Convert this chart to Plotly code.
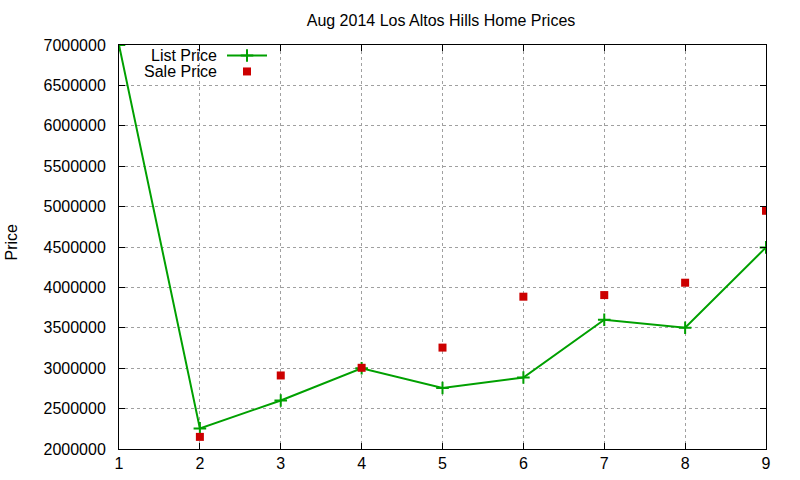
import plotly.graph_objects as go

x_list = [1, 2, 3, 4, 5, 6, 7, 8, 9]
list_price = [7000000, 2255000, 2600000, 3000000, 2755000, 2885000, 3600000, 3500000, 4495000]
x_sale = [2, 3, 4, 5, 6, 7, 8, 9]
sale_price = [2150000, 2910000, 3005000, 3255000, 3885000, 3905000, 4058000, 4948000]
series_names = ["List Price", "Sale Price"]

title_text = "Aug 2014 Los Altos Hills Home Prices"
y_title = "Price"
font_family = "Liberation Sans, Arial, sans-serif"

W, H = 800, 480
ML, MR, MT, MB = 119, 34, 45, 31

fig = go.Figure()
fig.add_trace(go.Scatter(
    x=x_list, y=list_price, mode="lines+markers", name=" ", legend="legend",
    line=dict(color="#00a000", width=2),
    marker=dict(symbol="cross-thin", size=9, line=dict(color="#00a000", width=2)),
))
fig.add_trace(go.Scatter(
    x=x_sale, y=sale_price, mode="markers", name=" ", legend="legend2",
    marker=dict(symbol="square", size=8, color="#cc0000"),
))

# legend labels, right-aligned to the left of the legend symbols (gnuplot style)
for name, yy in zip(series_names, [0.975, 0.9356]):
    fig.add_annotation(text=name, xref="paper", yref="paper", x=0.1546, y=yy,
                       xanchor="right", yanchor="middle", showarrow=False,
                       font=dict(size=16, color="black", family=font_family))

fig.add_annotation(text=y_title, xref="paper", yref="paper", x=0, y=0.5124,
                   xshift=-107.5, xanchor="center", yanchor="middle", textangle=-90,
                   showarrow=False, font=dict(size=16, color="black", family=font_family))

axis_common = dict(
    showline=True, linecolor="black", linewidth=1, mirror="allticks",
    ticks="inside", ticklen=6, tickcolor="black",
    showgrid=True, gridcolor="#a0a0a0", griddash="dot", gridwidth=1,
    zeroline=False, tickfont=dict(size=16, color="black", family=font_family),
)

leg_common = dict(xanchor="left", yanchor="top", bgcolor="rgba(0,0,0,0)",
                  font=dict(size=12), itemwidth=40)

fig.update_layout(
    width=W, height=H,
    margin=dict(l=ML, r=MR, t=MT, b=MB, autoexpand=False),
    paper_bgcolor="white", plot_bgcolor="white",
    font=dict(family=font_family, size=16, color="black"),
    title=dict(text=title_text, x=441 / W, xanchor="center", y=1 - 20 / H, yanchor="middle",
               font=dict(size=16)),
    showlegend=True,
    legend=dict(x=0.1592, y=1.01, **leg_common),
    legend2=dict(x=0.1592, y=1.01 - 16 / 404, **leg_common),
    xaxis=dict(range=[1, 9], dtick=1, tick0=1, **axis_common),
    yaxis=dict(range=[2000000, 7000000], dtick=500000, tickformat="d",
               ticklabelstandoff=9, **axis_common),
)

fig.write_html("out.html", config={"displayModeBar": False},
               post_script="document.body.style.margin='0px';")
